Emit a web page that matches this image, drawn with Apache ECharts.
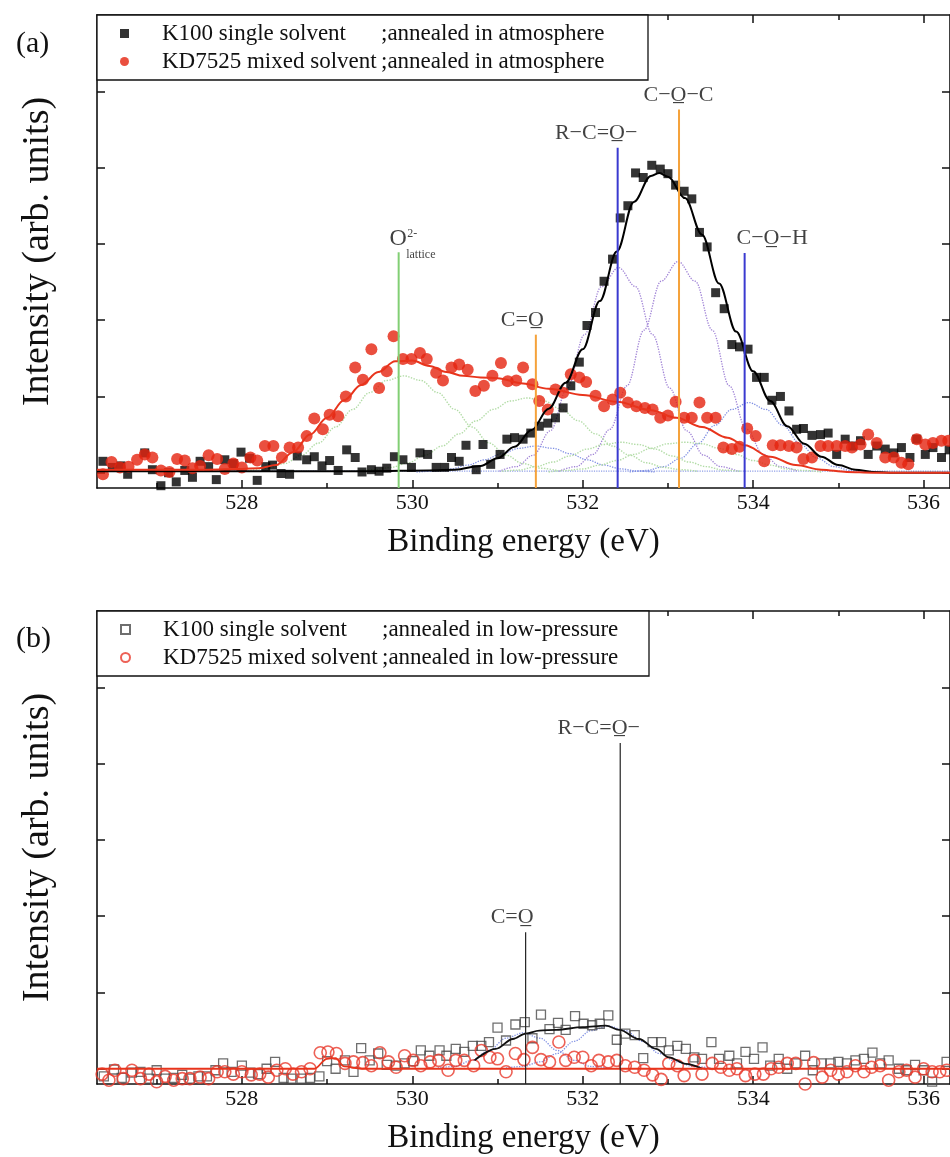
<!DOCTYPE html>
<html>
<head>
<meta charset="utf-8">
<script src="https://cdn.jsdelivr.net/npm/echarts@6/dist/echarts.min.js"></script>
<style>
html, body { margin: 0; padding: 0; background: #ffffff; }
#chart { width: 950px; height: 1157px; }
</style>
</head>
<body>
<div id="chart"></div>
<script>
// ---------- axis values ----------
const E_MIN = 526.3, E_MAX = 536.31;
const Y_MIN = -0.2, Y_MAX = 6.0;
const majorTicks = [528, 530, 532, 534, 536];
const minorTicks = [527, 529, 531, 533, 535];
const yTicks = [0, 1, 2, 3, 4, 5];

// ---------- (a) annealed in atmosphere: [binding energy (eV), intensity] ----------
const atmK100 = [[526.37,0.15],[526.48,0.07],[526.58,0.09],[526.66,-0.02],[526.86,0.26],[526.95,0.04],[527.05,-0.17],[527.14,0.0],[527.23,-0.12],[527.33,0.03],[527.42,-0.06],[527.51,0.15],[527.61,0.08],[527.70,-0.09],[527.80,0.17],[527.90,0.12],[527.99,0.27],[528.09,0.19],[528.18,-0.10],[528.28,0.08],[528.36,0.10],[528.46,-0.01],[528.56,-0.02],[528.65,0.22],[528.76,0.17],[528.85,0.21],[528.94,0.09],[529.03,0.16],[529.13,0.03],[529.23,0.30],[529.33,0.20],[529.41,0.01],[529.52,0.04],[529.61,0.02],[529.70,0.06],[529.79,0.21],[529.89,0.17],[529.99,0.07],[530.09,0.26],[530.18,0.24],[530.28,0.07],[530.38,0.07],[530.46,0.20],[530.55,0.15],[530.63,0.36],[530.75,0.04],[530.83,0.37],[530.92,0.11],[531.03,0.24],[531.11,0.44],[531.20,0.46],[531.30,0.44],[531.39,0.52],[531.49,0.61],[531.59,0.65],[531.68,0.72],[531.77,0.85],[531.86,1.14],[531.96,1.45],[532.05,1.93],[532.15,2.10],[532.25,2.51],[532.35,2.80],[532.44,3.34],[532.53,3.50],[532.62,3.93],[532.71,3.87],[532.81,4.03],[532.91,3.98],[533.00,3.92],[533.09,3.77],[533.19,3.69],[533.28,3.59],[533.37,3.15],[533.46,2.96],[533.56,2.36],[533.66,2.15],[533.75,1.68],[533.84,1.65],[533.94,1.62],[534.04,1.25],[534.13,1.25],[534.22,0.95],[534.32,1.00],[534.42,0.81],[534.51,0.57],[534.59,0.58],[534.69,0.49],[534.79,0.50],[534.88,0.52],[534.98,0.24],[535.08,0.44],[535.17,0.35],[535.26,0.42],[535.35,0.24],[535.45,0.35],[535.55,0.31],[535.65,0.26],[535.74,0.33],[535.84,0.20],[535.92,0.44],[536.02,0.24],[536.11,0.33],[536.21,0.20],[536.30,0.30]];

const atmKD7525 = [[526.37,-0.02],[526.47,0.14],[526.57,0.07],[526.67,0.08],[526.77,0.17],[526.86,0.24],[526.95,0.20],[527.05,0.03],[527.15,0.01],[527.24,0.18],[527.33,0.16],[527.42,0.06],[527.51,0.09],[527.61,0.23],[527.71,0.18],[527.80,0.05],[527.90,0.12],[528.00,0.07],[528.10,0.20],[528.18,0.16],[528.27,0.35],[528.37,0.35],[528.47,0.20],[528.56,0.33],[528.66,0.33],[528.76,0.48],[528.85,0.71],[528.95,0.57],[529.03,0.76],[529.13,0.74],[529.22,1.00],[529.33,1.38],[529.42,1.22],[529.52,1.62],[529.61,1.11],[529.70,1.33],[529.78,1.79],[529.89,1.49],[529.99,1.49],[530.09,1.57],[530.17,1.49],[530.28,1.31],[530.36,1.21],[530.46,1.38],[530.55,1.42],[530.65,1.35],[530.74,1.07],[530.84,1.14],[530.94,1.27],[531.04,1.44],[531.12,1.20],[531.22,1.21],[531.30,1.38],[531.41,1.16],[531.49,0.94],[531.59,0.83],[531.68,1.09],[531.77,1.05],[531.86,1.29],[531.96,1.25],[532.04,1.19],[532.15,1.01],[532.25,0.87],[532.35,0.96],[532.44,1.05],[532.53,0.92],[532.63,0.87],[532.73,0.85],[532.82,0.83],[532.91,0.72],[533.00,0.75],[533.09,0.93],[533.19,0.72],[533.28,0.72],[533.37,0.92],[533.46,0.72],[533.56,0.72],[533.65,0.33],[533.75,0.31],[533.84,0.34],[533.93,0.58],[534.03,0.48],[534.13,0.15],[534.23,0.36],[534.32,0.36],[534.42,0.35],[534.51,0.33],[534.59,0.18],[534.69,0.20],[534.79,0.35],[534.88,0.35],[534.98,0.35],[535.08,0.35],[535.16,0.33],[535.26,0.37],[535.35,0.50],[535.45,0.39],[535.55,0.20],[535.65,0.20],[535.74,0.13],[535.82,0.11],[535.92,0.44],[536.02,0.37],[536.11,0.39],[536.21,0.42],[536.29,0.42]];

// fitted envelopes
const atmK100Fit = [[526.3,0.02],[528.5,0.02],[529.5,0.02],[530.2,0.03],[530.5,0.04],[530.8,0.09],[531.0,0.19],[531.2,0.34],[531.4,0.56],[531.6,0.84],[531.8,1.18],[532.0,1.62],[532.2,2.25],[532.4,2.90],[532.6,3.55],[532.8,3.89],[532.9,3.93],[533.0,3.88],[533.2,3.60],[533.4,3.12],[533.6,2.48],[533.8,1.85],[534.0,1.33],[534.2,0.94],[534.4,0.61],[534.6,0.38],[534.8,0.21],[535.0,0.10],[535.2,0.04],[535.4,0.01],[535.6,0.0],[536.31,0.0]];
const atmKD7525Fit = [[526.3,0.04],[527.6,0.04],[528.0,0.05],[528.2,0.06],[528.4,0.10],[528.6,0.27],[528.8,0.50],[529.0,0.72],[529.2,0.95],[529.4,1.15],[529.6,1.32],[529.8,1.46],[530.0,1.47],[530.2,1.40],[530.4,1.32],[530.6,1.27],[530.8,1.25],[531.0,1.24],[531.3,1.17],[531.6,1.10],[532.0,1.02],[532.4,0.93],[532.8,0.82],[533.1,0.72],[533.4,0.60],[533.7,0.46],[533.9,0.36],[534.2,0.21],[534.5,0.10],[534.8,0.04],[535.1,0.01],[535.4,0.0],[536.31,0.0]];

// deconvoluted components, K100 (dotted)
const atmK100Carboxyl = [[531.02,0.02],[531.22,0.08],[531.42,0.23],[531.62,0.55],[531.82,1.11],[532.02,1.81],[532.22,2.44],[532.42,2.69],[532.62,2.44],[532.82,1.81],[533.02,1.11],[533.22,0.55],[533.42,0.23],[533.62,0.08],[533.82,0.02]];
const atmK100Ether = [[531.72,0.02],[531.92,0.08],[532.12,0.24],[532.32,0.57],[532.52,1.14],[532.72,1.87],[532.92,2.51],[533.12,2.77],[533.32,2.51],[533.52,1.87],[533.72,1.14],[533.92,0.57],[534.12,0.24],[534.32,0.08],[534.52,0.02]];
const atmK100Hydroxyl = [[532.55,0.01],[532.75,0.03],[532.95,0.08],[533.15,0.19],[533.35,0.38],[533.55,0.62],[533.75,0.83],[533.95,0.92],[534.15,0.83],[534.35,0.62],[534.55,0.38],[534.75,0.19],[534.95,0.08],[535.15,0.03],[535.35,0.01]];
const atmK100Carbonyl = [[530.05,0.01],[530.25,0.02],[530.45,0.05],[530.65,0.10],[530.85,0.17],[531.05,0.25],[531.25,0.32],[531.45,0.35],[531.65,0.32],[531.85,0.25],[532.05,0.17],[532.25,0.10],[532.45,0.05],[532.65,0.02],[532.85,0.01]];
// deconvoluted components, KD7525 (dotted)
const atmKDLattice = [[528.1,0.03],[528.3,0.06],[528.5,0.12],[528.7,0.23],[528.9,0.39],[529.1,0.60],[529.3,0.83],[529.5,1.05],[529.7,1.21],[529.9,1.27],[530.1,1.21],[530.3,1.05],[530.5,0.83],[530.7,0.60],[530.9,0.39],[531.1,0.23],[531.3,0.12],[531.5,0.06],[531.7,0.03]];
const atmKDCarbonyl = [[529.35,0.02],[529.55,0.04],[529.75,0.07],[529.95,0.13],[530.15,0.23],[530.35,0.35],[530.55,0.51],[530.75,0.68],[530.95,0.83],[531.15,0.94],[531.35,0.98],[531.55,0.94],[531.75,0.83],[531.95,0.68],[532.15,0.51],[532.35,0.35],[532.55,0.23],[532.75,0.13],[532.95,0.07],[533.15,0.04],[533.35,0.02]];
const atmKDCarboxyl = [[531.05,0.02],[531.25,0.035],[531.45,0.08],[531.65,0.14],[531.85,0.22],[532.05,0.31],[532.25,0.37],[532.45,0.40],[532.65,0.37],[532.85,0.31],[533.05,0.22],[533.25,0.14],[533.45,0.08],[533.65,0.035],[533.85,0.02]];
const atmKDEther = [[531.6,0.01],[531.8,0.03],[532.0,0.05],[532.2,0.10],[532.4,0.16],[532.6,0.24],[532.8,0.32],[533.0,0.38],[533.2,0.40],[533.4,0.38],[533.6,0.32],[533.8,0.24],[534.0,0.16],[534.2,0.10],[534.4,0.05],[534.6,0.03],[534.8,0.01]];
const atmBackground = [[526.3,0.02],[536.31,0.02]];

// reference peak energies (eV) and the height of each marker line
const atmPeakEnergy = [529.84, 531.45, 532.41, 533.13, 533.90];
const atmPeakTop = [2.89, 1.81, 4.26, 4.76, 2.88];

// ---------- (b) annealed in low-pressure ----------
const lowK100 = [[526.38,-0.10],[526.50,-0.01],[526.59,-0.12],[526.71,-0.05],[526.81,-0.04],[526.91,-0.13],[527.00,-0.02],[527.10,-0.13],[527.20,-0.12],[527.30,-0.08],[527.39,-0.13],[527.49,-0.10],[527.59,-0.10],[527.69,-0.02],[527.78,0.07],[527.88,-0.04],[528.00,0.04],[528.10,-0.05],[528.19,-0.07],[528.29,0.00],[528.39,0.09],[528.49,-0.12],[528.58,-0.13],[528.70,-0.13],[528.80,-0.12],[528.91,-0.10],[529.00,0.10],[529.10,0.00],[529.21,0.11],[529.31,-0.04],[529.40,0.27],[529.50,0.11],[529.60,0.20],[529.70,0.05],[529.81,0.04],[529.91,0.07],[530.01,0.10],[530.10,0.24],[530.20,0.17],[530.32,0.24],[530.40,0.17],[530.51,0.26],[530.61,0.22],[530.71,0.30],[530.81,0.30],[530.90,0.35],[531.00,0.54],[531.10,0.37],[531.21,0.58],[531.32,0.61],[531.41,0.40],[531.51,0.71],[531.61,0.52],[531.71,0.60],[531.80,0.51],[531.91,0.69],[532.01,0.59],[532.11,0.57],[532.20,0.59],[532.30,0.70],[532.40,0.38],[532.50,0.46],[532.61,0.44],[532.71,0.14],[532.82,0.35],[532.92,0.35],[533.01,0.24],[533.11,0.30],[533.21,0.26],[533.31,0.15],[533.40,0.13],[533.51,0.35],[533.60,0.13],[533.72,0.17],[533.81,0.07],[533.91,0.22],[534.01,0.13],[534.11,0.28],[534.20,0.04],[534.30,0.13],[534.40,0.00],[534.50,0.07],[534.61,0.17],[534.70,-0.02],[534.80,0.07],[534.91,0.07],[535.00,0.09],[535.10,0.07],[535.20,0.11],[535.30,0.13],[535.40,0.21],[535.49,0.07],[535.59,0.11],[535.71,0.00],[535.80,-0.02],[535.90,0.05],[536.00,-0.02],[536.10,-0.17],[536.27,0.09]];

const lowKD7525 = [[526.36,-0.07],[526.44,-0.15],[526.51,-0.02],[526.61,-0.13],[526.71,-0.02],[526.81,-0.13],[526.91,-0.07],[527.00,-0.17],[527.10,-0.10],[527.20,-0.15],[527.30,-0.13],[527.39,-0.13],[527.51,-0.11],[527.61,-0.13],[527.71,-0.04],[527.80,-0.04],[527.90,-0.07],[528.00,-0.04],[528.11,-0.08],[528.21,-0.07],[528.31,-0.11],[528.41,-0.02],[528.51,0.00],[528.60,-0.07],[528.70,-0.04],[528.80,0.00],[528.92,0.21],[529.01,0.22],[529.11,0.20],[529.21,0.07],[529.31,0.09],[529.42,0.08],[529.52,0.04],[529.62,0.21],[529.72,0.09],[529.81,0.02],[529.91,0.17],[530.01,0.11],[530.10,0.04],[530.21,0.09],[530.31,0.11],[530.42,-0.02],[530.51,0.11],[530.61,0.11],[530.72,0.04],[530.81,0.24],[530.91,0.15],[531.00,0.13],[531.10,-0.04],[531.21,0.20],[531.31,0.12],[531.41,0.28],[531.51,0.12],[531.61,0.09],[531.72,0.35],[531.80,0.11],[531.90,0.15],[532.00,0.15],[532.10,0.04],[532.19,0.11],[532.30,0.09],[532.40,0.11],[532.50,0.04],[532.61,0.02],[532.72,-0.02],[532.82,-0.08],[532.92,-0.14],[533.01,0.07],[533.11,0.04],[533.19,-0.09],[533.31,0.11],[533.40,-0.07],[533.52,0.07],[533.62,0.02],[533.72,-0.02],[533.81,0.00],[533.91,-0.09],[534.02,-0.07],[534.12,-0.07],[534.21,0.00],[534.30,0.02],[534.40,0.07],[534.50,0.07],[534.61,-0.20],[534.71,0.08],[534.81,-0.11],[534.91,-0.02],[535.00,-0.07],[535.10,-0.04],[535.20,0.04],[535.30,-0.04],[535.39,0.02],[535.49,0.04],[535.59,-0.15],[535.71,-0.04],[535.80,-0.02],[535.90,-0.11],[536.00,0.00],[536.10,-0.04],[536.19,-0.04],[536.27,-0.02]];

const lowK100Fit = [[530.73,0.11],[530.98,0.26],[531.18,0.39],[531.33,0.46],[531.49,0.50],[531.69,0.51],[532.00,0.545],[532.27,0.566],[532.43,0.51],[532.66,0.39],[532.86,0.26],[533.01,0.15],[533.21,0.065],[533.40,0.0]];
const lowKD7525Fit = [[526.3,0.0],[528.85,0.0],[529.0,0.13],[529.1,0.14],[529.2,0.03],[529.4,0.0],[536.31,0.0]];
const lowK100Carbonyl = [[530.3,0.01],[530.5,0.03],[530.7,0.11],[530.9,0.24],[531.1,0.40],[531.3,0.47],[531.5,0.40],[531.7,0.24],[531.9,0.11],[532.1,0.03],[532.3,0.01]];
const lowK100Carboxyl = [[531.1,0.01],[531.3,0.03],[531.5,0.09],[531.7,0.20],[531.9,0.36],[532.1,0.50],[532.3,0.56],[532.5,0.50],[532.7,0.36],[532.9,0.20],[533.1,0.09],[533.3,0.03],[533.5,0.01]];

const lowPeakEnergy = [531.33, 532.44];
const lowPeakTop = [1.79, 4.27];

// ---------- legend names ----------
const nameA1 = 'K100 single solvent ;annealed in atmosphere';
const nameA2 = 'KD7525 mixed solvent ;annealed in atmosphere';
const nameB1 = 'K100 single solvent ;annealed in low-pressure';
const nameB2 = 'KD7525 mixed solvent ;annealed in low-pressure';

// ---------- styling ----------
const FONT = '"Liberation Serif", "Times New Roman", serif';
const INK = '#111111';
const RED = '#e5230f';
const GRID_LEFT = 97, GRID_WIDTH = 855, GRID_HEIGHT = 473;
const GRID_TOPS = [15, 611];

function xAxesFor(gridIndex) {
  const tickStyle = { color: INK, width: 1.5 };
  const base = { type: 'value', gridIndex: gridIndex, min: E_MIN, max: E_MAX, splitLine: { show: false } };
  return [
    Object.assign({}, base, {
      position: 'bottom',
      axisLine: { show: true, onZero: false, lineStyle: { color: INK, width: 1.6 } },
      axisTick: { show: true, inside: true, length: 8, customValues: majorTicks, lineStyle: tickStyle },
      axisLabel: { show: true, customValues: majorTicks, margin: 4, fontFamily: FONT, fontSize: 22, color: INK },
      name: 'Binding energy (eV)', nameLocation: 'middle', nameGap: 38,
      nameTextStyle: { fontFamily: FONT, fontSize: 33, color: INK }
    }),
    Object.assign({}, base, {
      position: 'bottom',
      axisLine: { show: false, onZero: false },
      axisTick: { show: true, inside: true, length: 5, customValues: minorTicks, lineStyle: tickStyle },
      axisLabel: { show: false }
    }),
    Object.assign({}, base, {
      position: 'top',
      axisLine: { show: true, onZero: false, lineStyle: { color: INK, width: 1.6 } },
      axisTick: { show: true, inside: true, length: 8, customValues: majorTicks, lineStyle: tickStyle },
      axisLabel: { show: false }
    }),
    Object.assign({}, base, {
      position: 'top',
      axisLine: { show: false, onZero: false },
      axisTick: { show: true, inside: true, length: 5, customValues: minorTicks, lineStyle: tickStyle },
      axisLabel: { show: false }
    })
  ];
}

function yAxesFor(gridIndex) {
  const base = { type: 'value', gridIndex: gridIndex, min: Y_MIN, max: Y_MAX, splitLine: { show: false } };
  return [
    Object.assign({}, base, {
      position: 'left',
      axisLine: { show: true, onZero: false, lineStyle: { color: INK, width: 1.6 } },
      axisTick: { show: true, inside: true, length: 8, customValues: yTicks, lineStyle: { color: INK, width: 1.5 } },
      axisLabel: { show: false },
      name: 'Intensity (arb. units)', nameLocation: 'middle', nameRotate: 90, nameGap: 40,
      nameTextStyle: { fontFamily: FONT, fontSize: 38, color: INK }
    }),
    Object.assign({}, base, {
      position: 'right',
      axisLine: { show: true, onZero: false, lineStyle: { color: INK, width: 1.6 } },
      axisTick: { show: true, inside: true, length: 8, customValues: yTicks, lineStyle: { color: INK, width: 1.5 } },
      axisLabel: { show: false }
    })
  ];
}

function points(name, data, xi, yi, symbol, size, itemStyle, z) {
  return { type: 'scatter', name: name, xAxisIndex: xi, yAxisIndex: yi, data: data,
           symbol: symbol, symbolSize: size, itemStyle: itemStyle, z: z, silent: true };
}
function curve(data, xi, yi, color, width, dashType, z) {
  return { type: 'line', xAxisIndex: xi, yAxisIndex: yi, data: data, smooth: 0.35, smoothMonotone: 'x',
           symbol: 'none', silent: true, lineStyle: { color: color, width: width, type: dashType }, z: z };
}
function peakLine(energy, top, xi, yi, color, width) {
  return { type: 'line', xAxisIndex: xi, yAxisIndex: yi, data: [[energy, Y_MIN], [energy, top]],
           symbol: 'none', silent: true, lineStyle: { color: color, width: width }, z: 6 };
}
function tag(energy, top, text, dx, dy, extra) {
  return { value: [energy, top], label: Object.assign({ show: true, formatter: text, position: [dx, dy],
           align: 'center', verticalAlign: 'bottom', fontFamily: FONT, fontSize: 22, color: INK }, extra || {}) };
}

// legend rows: marker, sample name column, annealing column
const legendRich = {
  sp: { width: 28, lineHeight: 23 },
  a: { width: 219, fontFamily: FONT, fontSize: 23, color: INK, lineHeight: 23 },
  b: { width: 240, fontFamily: FONT, fontSize: 23, color: INK, lineHeight: 23 }
};
function legendFor(top, names) {
  return {
    left: GRID_LEFT, top: top, orient: 'vertical', data: names, selectedMode: false,
    backgroundColor: '#ffffff', borderColor: INK, borderWidth: 1.3,
    padding: [7, 27, 7, 23], itemGap: 5, itemWidth: 9, itemHeight: 9,
    formatter: function (n) {
      const parts = n.split(' ;');
      return '{sp|}{a|' + parts[0] + '}{b|;' + parts[1] + '}';
    },
    textStyle: { width: 487, overflow: 'none', rich: legendRich }
  };
}

const U = '\u0332', M = '\u2212';
const series = [];

// ----- panel (a) -----
series.push(curve(atmBackground, 0, 0, '#8e9de6', 1.2, 'dotted', 1));
[atmK100Carboxyl, atmK100Ether].forEach(d => series.push(curve(d, 0, 0, '#a083d6', 1.3, 'dotted', 1)));
[atmK100Hydroxyl, atmK100Carbonyl].forEach(d => series.push(curve(d, 0, 0, '#7f8fe3', 1.3, 'dotted', 1)));
[atmKDLattice, atmKDCarbonyl, atmKDCarboxyl, atmKDEther].forEach(d => series.push(curve(d, 0, 0, '#b2dca6', 1.4, 'dotted', 1)));
series.push(points(nameA1, atmK100, 0, 0, 'rect', 9, { color: '#000000' }, 3));
series.push(points(nameA2, atmKD7525, 0, 0, 'circle', 12, { color: RED }, 3));
series.push(curve(atmK100Fit, 0, 0, '#000000', 2, 'solid', 4));
series.push(curve(atmKD7525Fit, 0, 0, '#e8341c', 2, 'solid', 4));
const atmLineColors = ['#82cf74', '#f5a23a', '#3a3ad0', '#f5a23a', '#3a3ad0'];
atmPeakEnergy.forEach((e, i) => series.push(peakLine(e, atmPeakTop[i], 0, 0, atmLineColors[i], 2)));
series.push({
  type: 'scatter', xAxisIndex: 0, yAxisIndex: 0, symbolSize: 1, itemStyle: { color: 'rgba(0,0,0,0)' }, silent: true, z: 7,
  data: [
    tag(atmPeakEnergy[0], atmPeakTop[0], 'O', 0, -1, { fontSize: 24 }),
    tag(atmPeakEnergy[0], atmPeakTop[0], '2-', 9, -18, { fontSize: 12, align: 'left', verticalAlign: 'middle' }),
    tag(atmPeakEnergy[0], atmPeakTop[0], 'lattice', 8, 3, { fontSize: 12, align: 'left', verticalAlign: 'middle' }),
    tag(atmPeakEnergy[1], atmPeakTop[1], 'C=O' + U, -13, -3),
    tag(atmPeakEnergy[2], atmPeakTop[2], 'R' + M + 'C=O' + U + M, -21, -3),
    tag(atmPeakEnergy[3], atmPeakTop[3], 'C' + M + 'O' + U + M + 'C', 0, -3),
    tag(atmPeakEnergy[4], atmPeakTop[4], 'C' + M + 'O' + U + M + 'H', 28, -3)
  ]
});

// ----- panel (b) -----
series.push(points(nameB1, lowK100, 4, 2, 'rect', 9, { color: 'rgba(0,0,0,0)', borderColor: '#4a4a4a', borderWidth: 1.3 }, 3));
series.push(points(nameB2, lowKD7525, 4, 2, 'circle', 12, { color: 'rgba(0,0,0,0)', borderColor: '#e8392c', borderWidth: 1.6 }, 3));
[lowK100Carbonyl, lowK100Carboxyl].forEach(d => series.push(curve(d, 4, 2, '#7f8fe3', 1.3, 'dotted', 2)));
series.push(curve(lowK100Fit, 4, 2, '#111111', 1.8, 'solid', 4));
series.push(curve(lowKD7525Fit, 4, 2, '#e8341c', 1.8, 'solid', 4));
lowPeakEnergy.forEach((e, i) => series.push(peakLine(e, lowPeakTop[i], 4, 2, '#222222', 1.2)));
series.push({
  type: 'scatter', xAxisIndex: 4, yAxisIndex: 2, symbolSize: 1, itemStyle: { color: 'rgba(0,0,0,0)' }, silent: true, z: 7,
  data: [
    tag(lowPeakEnergy[0], lowPeakTop[0], 'C=O' + U, -13, -3),
    tag(lowPeakEnergy[1], lowPeakTop[1], 'R' + M + 'C=O' + U + M, -21, -3)
  ]
});

const chart = echarts.init(document.getElementById('chart'), null, { renderer: 'canvas', width: 950, height: 1157 });
chart.setOption({
  animation: false,
  backgroundColor: '#ffffff',
  grid: GRID_TOPS.map(t => ({ left: GRID_LEFT, top: t, width: GRID_WIDTH, height: GRID_HEIGHT, containLabel: false })),
  xAxis: xAxesFor(0).concat(xAxesFor(1)),
  yAxis: yAxesFor(0).concat(yAxesFor(1)),
  legend: [legendFor(GRID_TOPS[0], [nameA1, nameA2]), legendFor(GRID_TOPS[1], [nameB1, nameB2])],
  graphic: [
    { type: 'text', left: 16, top: 29, style: { text: '(a)', fontFamily: FONT, fontSize: 30, fill: INK } },
    { type: 'text', left: 16, top: 624, style: { text: '(b)', fontFamily: FONT, fontSize: 30, fill: INK } }
  ],
  series: series
});
</script>
</body>
</html>
